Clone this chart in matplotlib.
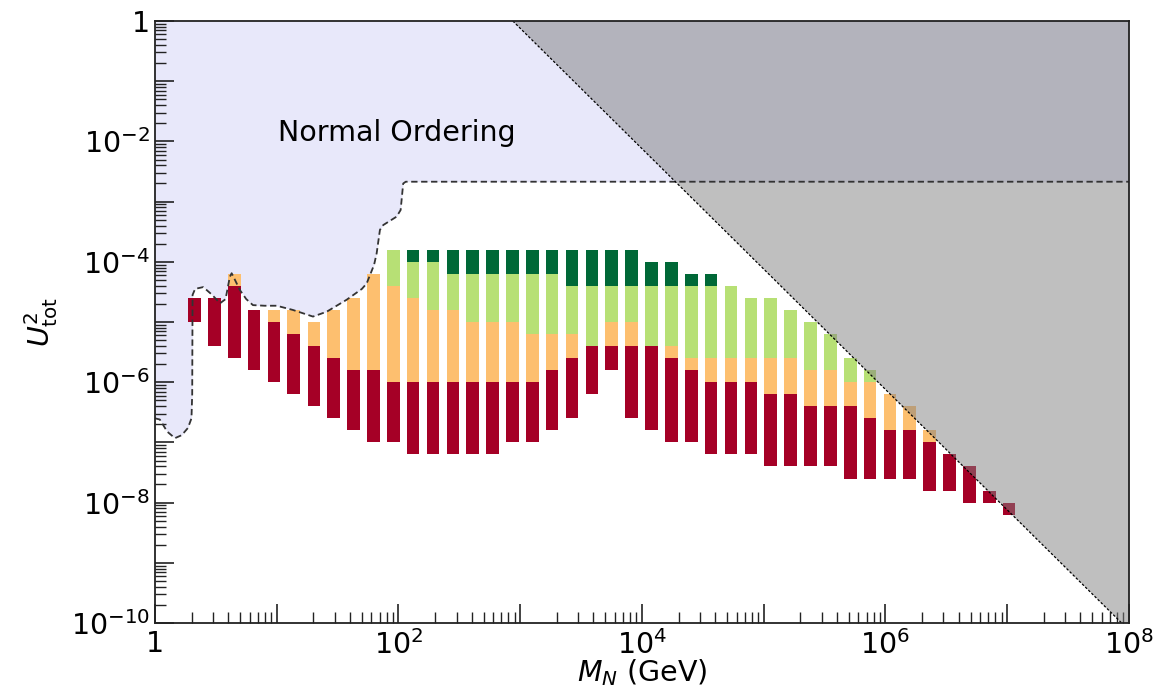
import numpy as np
import matplotlib.pyplot as plt
from matplotlib.ticker import LogLocator, FuncFormatter, NullFormatter

# heavy neutrino masses (GeV), one column each
masses = [2.11, 3.08, 4.48, 6.53, 9.51, 13.8, 20.2, 29.3, 42.7, 62.2,
          90.6, 132, 192, 280, 407, 593, 863, 1256, 1831, 2666,
          3881, 5649, 8225, 1.199e4, 1.746e4, 2.541e4, 3.70e4, 5.383e4, 7.852e4, 1.143e5,
          1.663e5, 2.421e5, 3.524e5, 5.14e5, 7.482e5, 1.089e6, 1.585e6, 2.307e6, 3.365e6, 4.898e6,
          7.129e6, 1.038e7]

# log10 U^2 edges of the coloured pieces of each column
red_lo = [-5.0, -5.4, -5.6, -5.8, -6.0, -6.2, -6.4, -6.6, -6.8, -7.0,
          -7.0, -7.2, -7.2, -7.2, -7.2, -7.2, -7.0, -7.0, -6.8, -6.6,
          -6.2, -5.8, -6.6, -6.8, -7.0, -7.0, -7.2, -7.2, -7.2, -7.4,
          -7.4, -7.4, -7.4, -7.6, -7.6, -7.6, -7.6, -7.8, -7.8, -8.0,
          -8.0, -8.2]
red_hi = [-4.6, -4.6, -4.4, -4.8, -5.0, -5.2, -5.4, -5.6, -5.8, -5.8,
          -6.0, -6.0, -6.0, -6.0, -6.0, -6.0, -6.0, -6.0, -5.8, -5.6,
          -5.4, -5.4, -5.4, -5.4, -5.6, -5.8, -6.0, -6.0, -6.0, -6.2,
          -6.2, -6.4, -6.4, -6.4, -6.6, -6.8, -6.8, -7.0, -7.2, -7.4,
          -7.8, -8.0]
orange_hi = [-4.6, -4.6, -4.2, -4.8, -4.8, -4.8, -5.0, -4.8, -4.6, -4.2,
             -4.4, -4.6, -4.8, -4.8, -5.0, -5.0, -5.0, -5.2, -5.2, -5.2,
             -5.4, -5.0, -5.0, -5.4, -5.4, -5.6, -5.6, -5.6, -5.6, -5.6,
             -5.6, -5.8, -5.8, -6.0, -6.0, -6.2, -6.4, -6.8, -7.2, -7.4,
             -7.8, -8.0]
lgreen_hi = [-4.6, -4.6, -4.2, -4.8, -4.8, -4.8, -5.0, -4.8, -4.6, -4.2,
             -3.8, -4.0, -4.0, -4.2, -4.2, -4.2, -4.2, -4.2, -4.2, -4.4,
             -4.4, -4.4, -4.4, -4.4, -4.4, -4.4, -4.4, -4.4, -4.6, -4.6,
             -4.8, -5.0, -5.2, -5.6, -5.8, -6.2, -6.4, -6.8, -7.2, -7.4,
             -7.8, -8.0]
dgreen_hi = [-4.6, -4.6, -4.2, -4.8, -4.8, -4.8, -5.0, -4.8, -4.6, -4.2,
             -3.8, -3.8, -3.8, -3.8, -3.8, -3.8, -3.8, -3.8, -3.8, -3.8,
             -3.8, -3.8, -3.8, -4.0, -4.0, -4.2, -4.2, -4.4, -4.6, -4.6,
             -4.8, -5.0, -5.2, -5.6, -5.8, -6.2, -6.4, -6.8, -7.2, -7.4,
             -7.8, -8.0]

# lower edge of the normal ordering region (log10 M, log10 U^2)
no_logm = [0, 0.04, 0.10, 0.164, 0.22, 0.271, 0.300, 0.306, 0.309, 0.33,
           0.397, 0.47, 0.534, 0.58, 0.615, 0.630, 0.645, 0.698, 0.75, 0.805,
           0.90, 1.0, 1.133, 1.298, 1.41, 1.575, 1.70, 1.739, 1.80, 1.821,
           1.848, 1.875, 1.985, 2.018, 2.039, 2.06, 8.0]
no_logu = [-6.6, -6.62, -6.82, -6.93, -6.88, -6.76, -6.60, -6.2, -4.55, -4.45,
           -4.42, -4.55, -4.69, -4.62, -4.25, -4.19, -4.25, -4.47, -4.62, -4.72,
           -4.73, -4.73, -4.80, -4.91, -4.83, -4.63, -4.45, -4.36, -4.05, -3.86,
           -3.47, -3.39, -3.25, -3.14, -2.70, -2.67, -2.67]

# unitarity-type bound, straight line in log-log
bound_m = [870, 1e8]
bound_u = [1, 7.6e-11]

fig = plt.figure(figsize=(11.73, 6.88), dpi=100)
ax = fig.add_axes([0.1321, 0.0945, 0.8303, 0.875])
ax.set_xscale('log')
ax.set_yscale('log')

no_m = 10 ** np.array(no_logm)
no_u = 10 ** np.array(no_logu)
ax.fill_between(no_m, no_u, 1, color='#e8e8fa', lw=0, zorder=1)
ax.plot(no_m, no_u, color='#333333', lw=1.3, ls=(0, (3.5, 2)), zorder=5)

colors = plt.cm.RdYlGn(np.linspace(0, 1, 4))
half = 0.052
step = 0.2
pieces = [(red_lo, red_hi), (red_hi, orange_hi), (orange_hi, lgreen_hi), (lgreen_hi, dgreen_hi)]
for (lo_list, hi_list), c in zip(pieces, colors):
    lefts, widths, bottoms, heights = [], [], [], []
    for m, lo, hi in zip(masses, lo_list, hi_list):
        n = int(round((hi - lo) / step))
        for j in range(n):
            y0 = lo + j * step
            xl = m * 10 ** (-half)
            lefts.append(xl)
            widths.append(m * 10 ** half - xl)
            bottoms.append(10 ** y0)
            heights.append(10 ** (y0 + step) - 10 ** y0)
    ax.bar(lefts, heights, width=widths, bottom=bottoms, align='edge',
           color=c, lw=0, zorder=2)

# excluded corner
poly_m = [bound_m[0], bound_m[1], bound_m[1]]
poly_u = [bound_u[0], bound_u[1], 1]
ax.fill(poly_m, poly_u, color='gray', alpha=0.5, lw=0, zorder=4)
ax.plot(bound_m, bound_u, color='k', lw=0.9, ls=(0, (2, 1.5)), zorder=5)

ax.text(97, 1.4e-2, 'Normal Ordering', ha='center', va='center', fontsize=20.5, zorder=6)

ax.set_xlim(1, 1e8)
ax.set_ylim(1e-10, 1)


def fmt(v, pos):
    e = int(round(np.log10(v)))
    if e % 2:
        return ''
    if e == 0:
        return '1'
    return r'$10^{%d}$' % e


for axis in (ax.xaxis, ax.yaxis):
    axis.set_major_locator(LogLocator(base=10, numticks=20))
    axis.set_minor_locator(LogLocator(base=10, subs=np.arange(2, 10), numticks=20))
    axis.set_major_formatter(FuncFormatter(fmt))
    axis.set_minor_formatter(NullFormatter())

ax.tick_params(which='both', direction='in', top=False, right=False, labelsize=20.5, color='#222222')
ax.tick_params(which='major', length=14, width=1.2)
ax.tick_params(which='minor', length=8, width=1.0)
ax.tick_params(axis='x', pad=5)
for s in ax.spines.values():
    s.set_linewidth(1.3)
    s.set_color('#222222')
    s.set_zorder(7)

ax.set_xlabel(r'$M_N$ (GeV)', fontsize=20.5, labelpad=-2)
ax.set_ylabel(r'$U^2_{\rm tot}$', fontsize=20.5, labelpad=8)

fig.savefig('out.png', dpi=100)
